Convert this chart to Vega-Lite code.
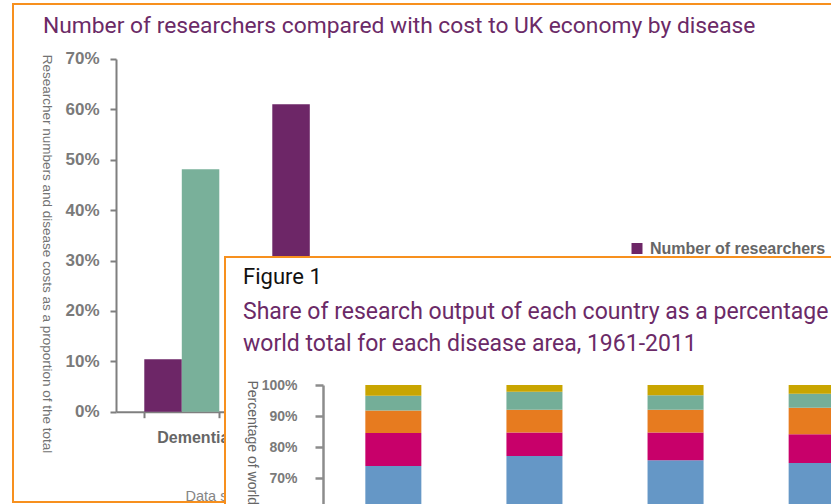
{
  "$schema": "https://vega.github.io/schema/vega-lite/v6.json",
  "width": 840,
  "height": 498,
  "autosize": {"type": "none"},
  "padding": {"left": 13, "top": 4, "right": 0, "bottom": 2},
  "background": "white",
  "view": {"stroke": "#f7901e", "strokeWidth": 2, "fill": "white"},
  "config": {"font": "Liberation Sans"},
  "resolve": {"scale": {"x": "independent", "y": "independent", "color": "independent"}, "axis": {"x": "independent", "y": "independent"}, "legend": {"color": "independent"}},
  "layer": [
    {
      "data": {"values": [{"heading": "Number of researchers compared with cost to UK economy by disease"}]},
      "mark": {"type": "text", "align": "left", "baseline": "alphabetic", "font": "Roboto", "fontSize": 22.8, "color": "#6b2a67"},
      "encoding": {
        "x": {"datum": 3.57, "type": "quantitative", "scale": {"domain": [0, 100], "range": [0, 840]}, "axis": null},
        "y": {"datum": 5.82, "type": "quantitative", "scale": {"domain": [0, 100], "range": [0, 498]}, "axis": null},
        "text": {"field": "heading"}
      }
    },
    {
      "data": {"values": [
        {"disease": "Dementia", "measure": "Number of researchers", "share": 0.104},
        {"disease": "Dementia", "measure": "Cost to UK economy", "share": 0.481},
        {"disease": "Cancer", "measure": "Number of researchers", "share": 0.610},
        {"disease": "Cancer", "measure": "Cost to UK economy", "share": 0.25},
        {"disease": "Heart disease", "measure": "Number of researchers", "share": 0.22},
        {"disease": "Heart disease", "measure": "Cost to UK economy", "share": 0.17},
        {"disease": "Stroke", "measure": "Number of researchers", "share": 0.07},
        {"disease": "Stroke", "measure": "Cost to UK economy", "share": 0.10}
      ]},
      "mark": {"type": "bar"},
      "encoding": {
        "x": {"field": "disease", "type": "nominal", "sort": ["Dementia", "Cancer", "Heart disease", "Stroke"],
          "scale": {"range": [103, 618.6], "paddingInner": 0.414, "paddingOuter": 0.221},
          "axis": {"orient": "bottom", "offset": -90.3, "domainColor": "#7f7f7f", "domainWidth": 2, "ticks": true, "tickBand": "extent", "tickSize": 6, "tickColor": "#7f7f7f", "tickWidth": 2, "labelFont": "Liberation Sans", "labelFontWeight": "bold", "labelFontSize": 16, "labelColor": "#666666", "labelPadding": 12, "labelOffset": 11, "labelAngle": 0,
            "title": "Data source: Alzheimer's Research UK", "titleX": 172, "titleY": 89, "titleAlign": "left", "titleBaseline": "alphabetic", "titleFont": "Liberation Sans", "titleFontWeight": "normal", "titleFontSize": 14.5, "titleColor": "#858585"}},
        "xOffset": {"field": "measure", "type": "nominal", "sort": ["Number of researchers", "Cost to UK economy"], "scale": {"paddingInner": 0, "paddingOuter": 0}},
        "y": {"field": "share", "type": "quantitative",
          "scale": {"domain": [0, 0.7], "range": [407.7, 54.9], "nice": false},
          "axis": {"orient": "left", "offset": -103, "values": [0, 0.1, 0.2, 0.3, 0.4, 0.5, 0.6, 0.7], "format": ".0%", "grid": false, "domainColor": "#7f7f7f", "domainWidth": 2, "tickColor": "#7f7f7f", "tickWidth": 2, "tickSize": 6, "labelFont": "Liberation Sans", "labelFontWeight": "bold", "labelFontSize": 17, "labelColor": "#7a7a7a", "labelPadding": 11,
            "title": "Researcher numbers and disease costs as a proportion of the total", "titleAngle": 90, "titleX": -70, "titleY": 249.5, "titleAlign": "center", "titleBaseline": "middle", "titleFont": "Liberation Sans", "titleFontSize": 13.5, "titleFontWeight": "normal", "titleColor": "#727272"}},
        "color": {"field": "measure", "type": "nominal", "sort": ["Number of researchers", "Cost to UK economy"],
          "scale": {"range": ["#6d2667", "#79b09a"]},
          "legend": {"orient": "none", "legendX": 616, "legendY": 236.5, "values": ["Number of researchers"], "title": null, "symbolType": "square", "symbolSize": 121, "symbolStrokeWidth": 0, "labelFont": "Liberation Sans", "labelFontWeight": "bold", "labelFontSize": 16, "labelColor": "#666666", "labelOffset": 5, "padding": 0, "labelLimit": 400}}
      }
    },
    {
      "data": {"values": [{"figure": "Figure 1"}]},
      "layer": [
        {
          "mark": {"type": "rect", "fill": "white", "stroke": "#f7901e", "strokeWidth": 2},
          "encoding": {
            "x": {"datum": 0, "type": "quantitative", "scale": {"domain": [0, 100], "range": [212, 880]}, "axis": null},
            "x2": {"datum": 100},
            "y": {"datum": 0, "type": "quantitative", "scale": {"domain": [0, 100], "range": [253, 520]}, "axis": null},
            "y2": {"datum": 100}
          }
        },
        {
          "mark": {"type": "text", "align": "left", "baseline": "alphabetic", "font": "Roboto", "fontSize": 22, "color": "#111111"},
          "encoding": {
            "x": {"datum": 2.7, "type": "quantitative"},
            "y": {"datum": 10.1, "type": "quantitative"},
            "text": {"field": "figure"}
          }
        },
        {
          "mark": {"type": "text", "align": "left", "baseline": "alphabetic", "font": "Roboto", "fontSize": 23, "lineHeight": 32, "color": "#6b2a67"},
          "encoding": {
            "x": {"datum": 2.7, "type": "quantitative"},
            "y": {"datum": 23.2, "type": "quantitative"},
            "text": {"value": ["Share of research output of each country as a percentage of the", "world total for each disease area, 1961-2011"]}
          }
        }
      ]
    },
    {
      "data": {"values": [
        {"area": "Dementia", "country": "World (rest)", "share": 0.739},
        {"area": "Dementia", "country": "USA", "share": 0.106},
        {"area": "Dementia", "country": "UK", "share": 0.073},
        {"area": "Dementia", "country": "Germany", "share": 0.047},
        {"area": "Dementia", "country": "Canada", "share": 0.035},
        {"area": "Cancer", "country": "World (rest)", "share": 0.771},
        {"area": "Cancer", "country": "USA", "share": 0.076},
        {"area": "Cancer", "country": "UK", "share": 0.073},
        {"area": "Cancer", "country": "Germany", "share": 0.058},
        {"area": "Cancer", "country": "Canada", "share": 0.022},
        {"area": "Heart disease", "country": "World (rest)", "share": 0.757},
        {"area": "Heart disease", "country": "USA", "share": 0.090},
        {"area": "Heart disease", "country": "UK", "share": 0.073},
        {"area": "Heart disease", "country": "Germany", "share": 0.047},
        {"area": "Heart disease", "country": "Canada", "share": 0.033},
        {"area": "Stroke", "country": "World (rest)", "share": 0.748},
        {"area": "Stroke", "country": "USA", "share": 0.093},
        {"area": "Stroke", "country": "UK", "share": 0.086},
        {"area": "Stroke", "country": "Germany", "share": 0.045},
        {"area": "Stroke", "country": "Canada", "share": 0.028}
      ]},
      "mark": {"type": "bar"},
      "encoding": {
        "x": {"field": "area", "type": "nominal", "sort": ["Dementia", "Cancer", "Heart disease", "Stroke"],
          "scale": {"range": [310, 874], "paddingInner": 0.603, "paddingOuter": 0.3},
          "axis": {"orient": "bottom", "offset": 193, "zindex": 1, "labelAngle": 0, "title": null, "domainColor": "#8c8c8c", "ticks": false}},
        "y": {"field": "share", "type": "quantitative", "stack": "zero",
          "scale": {"domain": [0, 1], "range": [691, 381], "nice": false},
          "axis": {"orient": "left", "offset": -310, "zindex": 1, "values": [0, 0.1, 0.2, 0.3, 0.4, 0.5, 0.6, 0.7, 0.8, 0.9, 1], "format": ".0%", "grid": false, "domainColor": "#8c8c8c", "domainWidth": 2.5, "tickColor": "#8c8c8c", "tickWidth": 2.5, "tickSize": 8, "labelFont": "Liberation Sans", "labelFontWeight": "bold", "labelFontSize": 14, "labelColor": "#7a7a7a", "labelPadding": 18,
            "title": "Percentage of world total output", "titleAngle": 90, "titleX": -72, "titleY": 376, "titleAlign": "left", "titleBaseline": "middle", "titleFont": "Liberation Sans", "titleFontSize": 14, "titleFontWeight": "normal", "titleColor": "#666666"}},
        "color": {"field": "country", "type": "nominal", "sort": ["World (rest)", "USA", "UK", "Germany", "Canada"],
          "scale": {"range": ["#6597c6", "#c8006a", "#e77b1f", "#74ae98", "#c9a500"]},
          "legend": null},
        "order": {"field": "country", "sort": "descending"}
      }
    }
  ]
}
